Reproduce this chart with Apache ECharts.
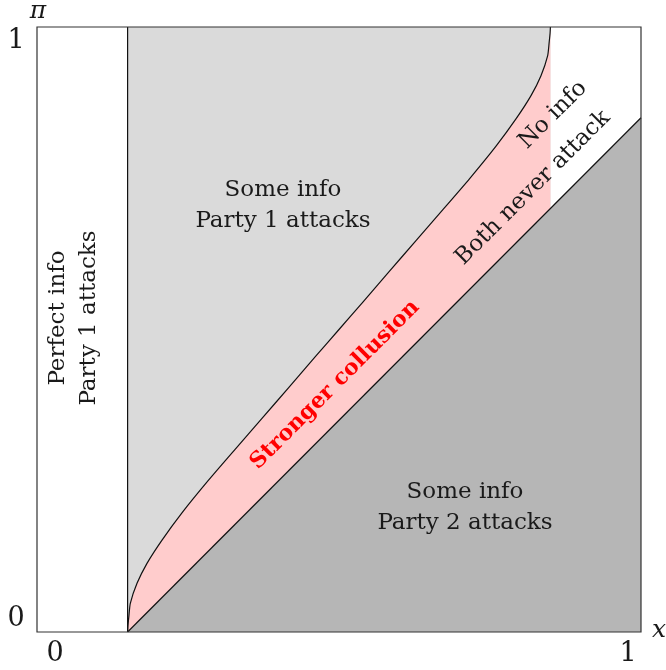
<!DOCTYPE html>
<html>
<head>
<meta charset="utf-8">
<script src="https://cdn.jsdelivr.net/npm/echarts@6/dist/echarts.min.js"></script>
<style>
  html, body { margin: 0; padding: 0; background: #fff; }
  #main { width: 666px; height: 670px; }
</style>
</head>
<body>
<div id="main"></div>
<script>
// region boundaries
var xCut = [0.15, 0.85];
var diagonal = [[0.15, 0], [1, 0.85]];
// upper boundary of the collusion band
var curve = [
  [0.15, 0], [0.1505, 0.01], [0.152, 0.025], [0.1545, 0.0474], [0.1656, 0.0805],
  [0.1821, 0.1135], [0.207, 0.152], [0.24, 0.197], [0.284, 0.251], [0.328, 0.302],
  [0.3725, 0.353], [0.4167, 0.404], [0.4608, 0.455], [0.5, 0.5],
  [0.5392, 0.545], [0.5833, 0.596], [0.6275, 0.647], [0.672, 0.698], [0.716, 0.749],
  [0.76, 0.803], [0.793, 0.848], [0.8179, 0.8865], [0.8344, 0.9195], [0.8455, 0.9526],
  [0.848, 0.975], [0.8495, 0.99], [0.85, 1]
];

var myChart = echarts.init(document.getElementById('main'));
var font = '"DejaVu Serif", "Liberation Serif", serif';
var txt = function (text, x, y, opts) {
  opts = opts || {};
  return {
    type: 'text',
    x: x, y: y,
    rotation: opts.rotation || 0,
    z: 100,
    style: {
      text: text,
      font: (opts.italic ? 'italic ' : '') + (opts.weight || 'normal') + ' ' + (opts.size || 23) + 'px ' + font,
      fill: opts.color || '#1a1a1a',
      align: 'center',
      verticalAlign: 'middle',
      lineHeight: opts.lh || 31
    }
  };
};

var option = {
  animation: false,
  backgroundColor: '#fff',
  grid: {
    left: 37, top: 27, width: 604, height: 605,
    show: true, borderColor: '#333', borderWidth: 1.2, z: 10
  },
  xAxis: {
    type: 'value', min: 0, max: 1,
    axisLine: { show: false }, axisTick: { show: false },
    axisLabel: { show: false }, splitLine: { show: false }
  },
  yAxis: {
    type: 'value', min: 0, max: 1,
    axisLine: { show: false }, axisTick: { show: false },
    axisLabel: { show: false }, splitLine: { show: false }
  },
  series: [
    {
      // some info, party 1 attacks
      type: 'line', data: [[xCut[0], 1], [xCut[1], 1]],
      showSymbol: false, lineStyle: { width: 0 },
      areaStyle: { color: '#dadada', opacity: 1 }
    },
    {
      // stronger collusion band, bounded above by the curve
      type: 'line', data: curve, showSymbol: false, smooth: 0.2,
      lineStyle: { color: '#111', width: 1.2 },
      areaStyle: { color: '#ffcccc', opacity: 1 }
    },
    {
      // some info, party 2 attacks
      type: 'line', data: diagonal, showSymbol: false,
      lineStyle: { color: '#111', width: 1.2 },
      areaStyle: { color: '#b6b6b6', opacity: 1 }
    },
    {
      type: 'line', data: [[xCut[0], 0], [xCut[0], 1]], showSymbol: false,
      lineStyle: { color: '#111', width: 1.2 }
    }
  ],
  graphic: [
    txt('0', 55, 654, { size: 27 }), txt('1', 628, 654, { size: 27 }),
    txt('1', 16, 41, { size: 27 }), txt('0', 16, 619, { size: 27 }),
    txt('π', 38, 11, { italic: true, size: 25 }),
    txt('x', 659, 630, { italic: true, size: 25 }),
    txt('Some info\nParty 1 attacks', 283, 206),
    txt('Some info\nParty 2 attacks', 465, 508),
    txt('Perfect info\nParty 1 attacks', 74, 318, { rotation: Math.PI / 2 }),
    txt('No info', 553, 115, { rotation: Math.PI / 4 }),
    txt('Both never attack', 533, 188, { rotation: Math.PI / 4 }),
    txt('Stronger collusion', 335, 385, { rotation: Math.PI / 4, weight: 'bold', color: '#ff0000', size: 22 })
  ]
};
myChart.setOption(option);
</script>
</body>
</html>
